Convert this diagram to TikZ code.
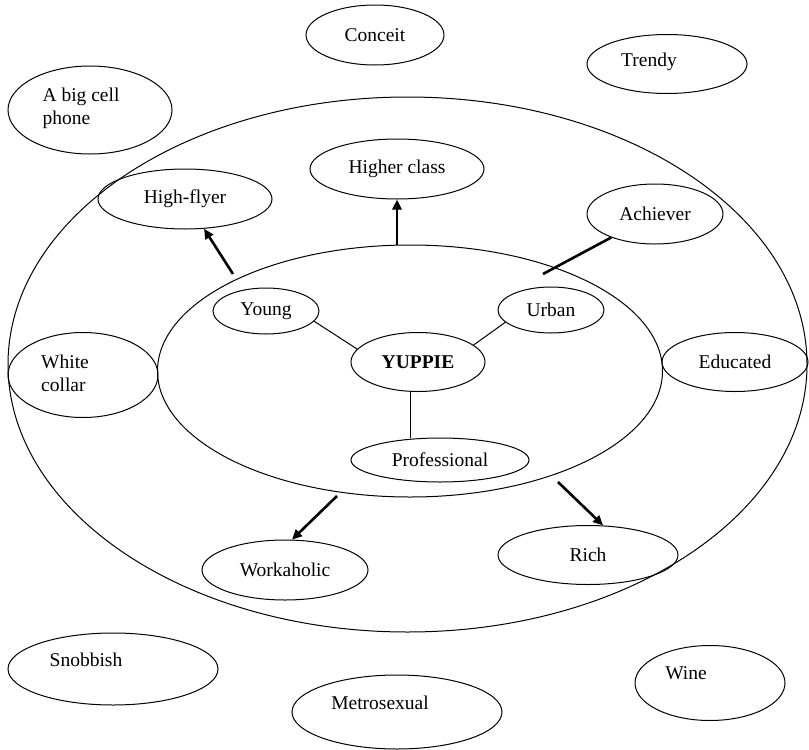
\documentclass[tikz,border=0pt]{standalone}
\usepackage{fontspec}
\setmainfont{Liberation Serif}
\usetikzlibrary{arrows.meta,shapes.geometric}
\tikzset{bubble/.style 2 args={ellipse,draw,line width=1pt,minimum width=#1,minimum height=#2,inner sep=0pt},link/.style={line width=1pt},arrow/.style={-{Triangle[length=10pt,width=9pt]},line width=2.6pt},bar/.style={line width=2.6pt}}
\begin{document}
\begin{tikzpicture}[x=1pt,y=-1pt,font=\fontsize{19.5}{23}\selectfont]
\useasboundingbox (0,0) rectangle (809,750);
% rings
\node[bubble={799pt}{535pt}] (outer) at (407.5,364.5) {};
\node[bubble={505pt}{252pt}] (inner) at (410,371) {};
% core
\node[bubble={134pt}{59pt}] (yuppie) at (418,362) {\textbf{YUPPIE}};
\node[bubble={106pt}{46pt}] (young) at (266,311) {Young};
\node[bubble={106pt}{46pt}] (urban) at (551,310) {Urban};
\node[bubble={178pt}{44pt}] (prof) at (440,460) {Professional};
% middle ring
\node[bubble={174pt}{60pt}] (higher) at (397,169) {Higher class};
\node[bubble={174pt}{60pt}] (flyer) at (185,199) {High-flyer};
\node[bubble={136pt}{60pt}] (achiever) at (655,214) {Achiever};
\node[bubble={150pt}{85pt},label={[align=left,xshift=-18pt,yshift=2pt]center:White\\collar}] (collar) at (83,375) {};
\node[bubble={146pt}{59pt}] (educated) at (735,362) {Educated};
\node[bubble={166pt}{60pt}] (work) at (285,570) {Workaholic};
\node[bubble={180pt}{59pt}] (rich) at (588,555) {Rich};
% outside
\node[bubble={138pt}{60pt}] (conceit) at (375,35) {Conceit};
\node[bubble={160pt}{59pt},label={[xshift=-18pt,yshift=2pt]center:Trendy}] (trendy) at (667,64) {};
\node[bubble={164pt}{88pt},label={[align=left,xshift=-9pt,yshift=2pt]center:A big cell\\phone}] (phone) at (90,110) {};
\node[bubble={210pt}{72pt},label={[xshift=-27pt,yshift=9pt]center:Snobbish}] (snob) at (113,669) {};
\node[bubble={210pt}{74pt},label={[xshift=-17pt,yshift=9pt]center:Metrosexual}] (metro) at (397,712) {};
\node[bubble={150pt}{75pt},label={[xshift=-24pt,yshift=10pt]center:Wine}] (wine) at (710,683) {};
% connectors
\coordinate (flyerfoot) at (233,274);
\coordinate (classfoot) at (397,245);
\coordinate (achfoot) at (543,274);
\coordinate (workfoot) at (337,496);
\coordinate (richfoot) at (558,482);
\draw[link] (young.-12) -- (yuppie.168);
\draw[link] (urban.195) -- (yuppie.17);
\draw[link] (yuppie.-105) -- (yuppie.-105 |- prof.north);
\draw[arrow] (flyerfoot) -- (flyer);
\draw[arrow] (classfoot) -- (higher);
\draw[bar] (achfoot) -- (achiever);
\draw[arrow] (workfoot) -- (work.77);
\draw[arrow] (richfoot) -- (rich.63);
\end{tikzpicture}
\end{document}
